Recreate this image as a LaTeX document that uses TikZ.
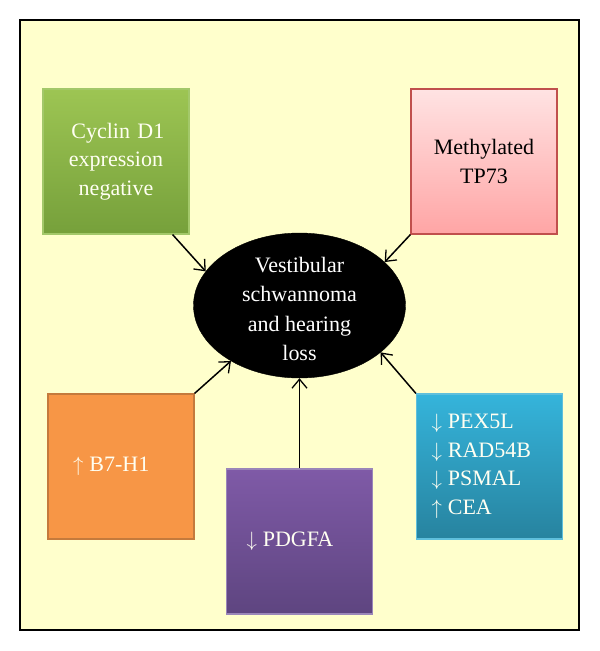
\documentclass[tikz,border=0pt]{standalone}
\usepackage{fontspec}
\setmainfont{Liberation Serif}
\usetikzlibrary{calc,arrows.meta,shapes.geometric}
\definecolor{bgyellow}{HTML}{FFFFCC}
\definecolor{gtop}{HTML}{9DC553}
\definecolor{gbot}{HTML}{76A03B}
\definecolor{gbord}{HTML}{A3C86A}
\definecolor{ptop}{HTML}{FFE3E3}
\definecolor{pbot}{HTML}{FFA5A5}
\definecolor{pbord}{HTML}{C0504D}
\definecolor{ofill}{HTML}{F79646}
\definecolor{obord}{HTML}{C47A3C}
\definecolor{vtop}{HTML}{7F5AA7}
\definecolor{vbot}{HTML}{5E4580}
\definecolor{vbord}{HTML}{9A86B9}
\definecolor{btop}{HTML}{35B4DB}
\definecolor{bbot}{HTML}{27839F}
\definecolor{bbord}{HTML}{5FBFDC}
\definecolor{txtw}{HTML}{FFFFF2}
\newcommand{\upar}{$\uparrow$\hspace{6pt}}
\newcommand{\dnar}{$\downarrow$\hspace{6pt}}
\begin{document}
\begin{tikzpicture}[x=1pt,y=-1pt,
  boxnode/.style={draw, line width=1.2pt, minimum width=146pt, minimum height=145pt,
    inner ysep=0pt, font=\fontsize{22}{28.5}\selectfont},
  conn/.style={line width=1.5pt, -{Straight Barb[length=9pt,width=15pt,line width=1.3pt]}}
  ]
\useasboundingbox (0,0) rectangle (600,651);
\draw[line width=2pt, fill=bgyellow] (20,20) rectangle (579,630);

\node[boxnode, draw=gbord, top color=gtop, bottom color=gbot, text=txtw,
  align=center, inner xsep=5pt, text width=136pt] (green) at (116,161.5)
  {\,Cyclin D1\\expression\\negative};
\node[boxnode, draw=pbord, top color=ptop, bottom color=pbot, text=black,
  align=center, inner xsep=5pt, text width=136pt] (pink) at (484,161.5)
  {Methylated\\TP73};
\node[boxnode, draw=obord, fill=ofill, text=txtw,
  align=left, inner xsep=25pt, text width=96pt] (orange) at (121,466.5)
  {\upar B7-H1};
\node[boxnode, draw=vbord, top color=vtop, bottom color=vbot, text=txtw,
  align=left, inner xsep=20pt, text width=106pt] (purple) at (299.5,541.5)
  {\dnar PDGFA};
\node[boxnode, draw=bbord, top color=btop, bottom color=bbot, text=txtw,
  align=left, inner xsep=15pt, text width=116pt] (blue) at (489.5,466.5)
  {\dnar PEX5L\\\dnar RAD54B\\\dnar PSMAL\\\upar CEA};

\node[ellipse, fill=black, draw=black, minimum width=212pt, minimum height=145pt,
  inner sep=0pt] (ell) at (299.5,305.5) {};
\node[text=white, align=center, font=\fontsize{22}{29.5}\selectfont, inner sep=0pt]
  (elltext) at (299.5,309) {Vestibular\\schwannoma\\and hearing\\loss};

\draw[conn] ($(green.south east)+(-17,0)$) -- (ell.160);
\draw[conn] (pink.south west) -- (ell.27);
\draw[conn] (orange.north east) -- (ell.219);
\draw[conn] (purple.north) -- (ell.south);
\draw[conn] (blue.north west) -- (ell.330);
\end{tikzpicture}
\end{document}
